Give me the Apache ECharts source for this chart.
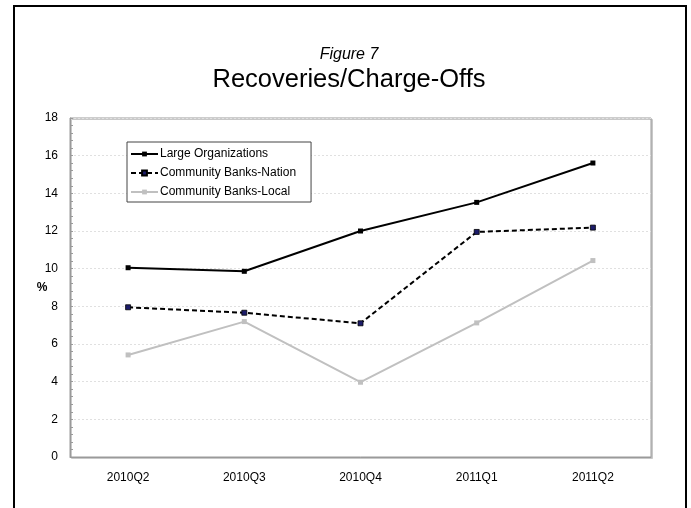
<!DOCTYPE html>
<html>
<head>
<meta charset="utf-8">
<script src="https://cdn.jsdelivr.net/npm/echarts@6/dist/echarts.min.js"></script>
<style>
html,body{margin:0;padding:0;background:#fff;}
#chart{width:691px;height:508px;}
</style>
</head>
<body>
<div id="chart"></div>
<script>
const categories = ['2010Q2', '2010Q3', '2010Q4', '2011Q1', '2011Q2'];
const largeOrganizations = [10.05, 9.86, 12.0, 13.52, 15.61];
const communityBanksNation = [7.95, 7.66, 7.1, 11.95, 12.18];
const communityBanksLocal = [5.42, 7.19, 3.97, 7.12, 10.43];
const seriesNames = ['Large Organizations', 'Community Banks-Nation', 'Community Banks-Local'];
const yTicks = {min: 0, max: 18, interval: 2};

const FONT = '"Liberation Sans", Arial, sans-serif';
const chart = echarts.init(document.getElementById('chart'), null, {renderer: 'canvas'});
chart.setOption({
  backgroundColor: '#fff',
  animation: false,
  textStyle: {fontFamily: FONT},
  title: [
    {text: 'Figure 7', left: 349, textAlign: 'center', top: 47, padding: 0,
     textStyle: {fontFamily: FONT, fontSize: 16, fontStyle: 'italic', fontWeight: 'normal', color: '#000'}},
    {text: 'Recoveries/Charge-Offs', left: 349, textAlign: 'center', top: 67, padding: 0,
     textStyle: {fontFamily: FONT, fontSize: 25.5, fontWeight: 'normal', color: '#000'}}
  ],
  graphic: [{
    type: 'rect', z: 100, silent: true,
    shape: {x: 14, y: 6, width: 672, height: 600},
    style: {fill: 'none', stroke: '#000', lineWidth: 2}
  }],
  legend: {
    orient: 'vertical', left: 127, top: 142,
    padding: [6, 15, 4, 3],
    itemGap: 7, itemWidth: 27, itemHeight: 6,
    borderColor: '#444', borderWidth: 1, backgroundColor: '#fff',
    textStyle: {fontFamily: FONT, fontSize: 12, color: '#000', padding: [0, 0, 0, -3]},
    data: seriesNames
  },
  grid: {
    left: 70, right: 40, top: 118, bottom: 51, show: true,
    borderColor: '#9a9a9a', borderWidth: 1, backgroundColor: '#fff',
    shadowColor: '#c8c8c8', shadowOffsetX: 1.5, shadowOffsetY: 1.5, shadowBlur: 0
  },
  xAxis: {
    type: 'category', data: categories, boundaryGap: true,
    axisLine: {show: true, lineStyle: {color: '#9a9a9a', width: 1}},
    axisTick: {show: false},
    axisLabel: {fontFamily: FONT, fontSize: 12, color: '#000', margin: 15},
    splitLine: {show: false}
  },
  yAxis: {
    type: 'value', min: yTicks.min, max: yTicks.max, interval: yTicks.interval,
    name: '%', nameLocation: 'middle', nameRotate: 0, nameGap: 28, nameMoveOverlap: false,
    nameTextStyle: {fontFamily: FONT, fontSize: 12, fontWeight: 'bold', color: '#000', align: 'center', verticalAlign: 'middle', padding: [16, 0, 0, 0]},
    axisLine: {show: true, lineStyle: {color: '#9a9a9a', width: 1}},
    axisTick: {show: true, inside: true, length: 3, lineStyle: {color: '#9a9a9a'}},
    minorTick: {show: true, splitNumber: 5, length: 3, lineStyle: {color: '#9a9a9a'}},
    axisLabel: {fontFamily: FONT, fontSize: 12, color: '#000', margin: 12},
    splitLine: {show: true, lineStyle: {color: '#e0e0e0', type: [2, 2], width: 1}}
  },
  series: [
    {name: seriesNames[0], type: 'line', data: largeOrganizations,
     symbol: 'rect', symbolSize: 5,
     lineStyle: {color: '#000', width: 2},
     itemStyle: {color: '#000'}, z: 4},
    {name: seriesNames[1], type: 'line', data: communityBanksNation,
     symbol: 'rect', symbolSize: 5,
     lineStyle: {color: '#000', width: 2, type: [5, 3]},
     itemStyle: {color: '#1c1c6a', borderColor: '#000', borderWidth: 0.8}, z: 3},
    {name: seriesNames[2], type: 'line', data: communityBanksLocal,
     symbol: 'rect', symbolSize: 5,
     lineStyle: {color: '#c0c0c0', width: 2},
     itemStyle: {color: '#c0c0c0'}, z: 2}
  ]
});
</script>
</body>
</html>
